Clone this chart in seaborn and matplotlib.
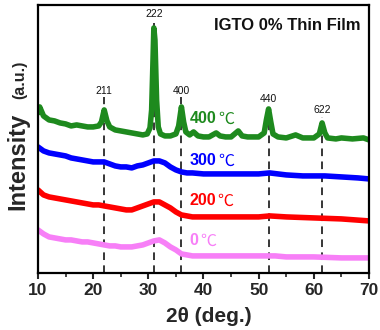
import numpy as np
import pandas as pd
import matplotlib
matplotlib.use("Agg")
import matplotlib.pyplot as plt
import seaborn as sns

# ---------------- data ----------------
x_400 = [10, 10.3, 11, 12, 13, 14, 15, 16, 17, 18, 19, 20, 21, 21.5, 22, 22.5, 23, 24, 25, 26, 27, 28, 29,
         29.8, 30.3, 30.6, 30.85, 31.0, 31.2, 31.5, 31.8, 32.2, 33, 34, 35, 35.5, 36, 36.4, 36.8, 37.5,
         38.2, 39, 40, 41, 42.3, 43, 44, 45, 46.3, 47, 48, 49, 50, 51, 51.4, 51.8, 52.2, 52.6, 53.5, 55,
         56.7, 58, 60, 61, 61.5, 62, 62.5, 64, 65, 67, 69, 70]
y_400 = [160, 166, 157, 153, 152, 150, 149, 147, 148, 147, 146, 146, 147, 151, 163, 152, 146, 143, 142, 141,
         140, 139, 138, 139, 145, 163, 213, 245, 233, 173, 146, 139, 137, 137, 139, 147, 166, 151, 141, 138,
         141, 137, 136, 136, 140, 137, 136, 136, 142, 137, 136, 136, 136, 140, 153, 164, 151, 139, 136, 135,
         138, 135, 135, 139, 150, 140, 135, 134, 135, 134, 135, 133]

x_300 = [10, 11, 12, 13, 14, 15, 16, 17, 18, 19, 20, 21, 22, 23, 24, 25, 26, 27, 28, 29, 30, 31, 32, 33, 34,
         35, 36, 37, 38, 40, 42, 45, 48, 50, 52, 55, 58, 60, 62, 65, 68, 70]
y_300 = [126, 122, 120, 119, 118, 117, 115, 114, 113, 112, 111, 111, 111, 109, 107, 106, 106, 105, 107, 108,
         110, 112, 112, 110, 106, 103, 101, 100, 100, 99, 99, 99, 99, 99, 100, 98, 97, 97, 97, 96, 95, 94]

x_200 = [10, 11, 12, 13, 14, 15, 16, 17, 18, 19, 20, 21, 22, 23, 24, 25, 26, 27, 28, 29, 30, 31, 32, 33, 34,
         35, 36, 37, 38, 40, 45, 50, 52, 55, 60, 65, 70]
y_200 = [83, 78, 76, 75, 74, 73, 72, 71, 70, 69, 68, 68, 67, 66, 65, 64, 63, 63, 65, 67, 69, 71, 71, 68, 65,
         61, 58, 57, 56, 56, 56, 56, 57, 56, 55, 54, 52]

x_0 = [10, 11, 12, 13, 14, 15, 16, 17, 18, 19, 20, 21, 22, 23, 24, 25, 26, 27, 28, 29, 30, 31, 32, 33, 34,
       35, 36, 37, 38, 40, 45, 50, 53, 55, 60, 65, 70]
y_0 = [43, 39, 36, 35, 34, 33, 33, 32, 31, 31, 30, 29, 28, 27, 27, 26, 26, 26, 27, 28, 30, 32, 33, 30, 26,
       23, 19, 18, 17, 17, 17, 17, 17, 16, 16, 15, 15]

series_temps = ["400", "300", "200", "0"]
series_colors = ["#1e8a1e", "#0000ff", "#ff0000", "#f77ff7"]

peak_labels = ["211", "222", "400", "440", "622"]
peak_pos = [22.0, 31.0, 36.0, 51.8, 61.5]

# ---------------- layout / style ----------------
peak_text_y = [182, 259, 182, 174, 163]
peak_line_top = [176, 250, 176, 167, 156]
series_text_y = [154, 112, 72, 32]

sns.set_style("ticks")
plt.rcParams["font.family"] = ["Liberation Sans", "DejaVu Sans"]

fig = plt.figure(figsize=(3.8, 3.3), dpi=100)
ax = fig.add_axes([0.1, 0.173, 0.871, 0.812])

xs = [x_400, x_300, x_200, x_0]
ys = [y_400, y_300, y_200, y_0]
for col, xv, yv in zip(series_colors, xs, ys):
    df = pd.DataFrame({"x": xv, "y": yv})
    sns.lineplot(data=df, x="x", y="y", ax=ax, color=col, lw=4.0, sort=False,
                 estimator=None, solid_joinstyle="round")

for lab, p, ty, lt in zip(peak_labels, peak_pos, peak_text_y, peak_line_top):
    ax.plot([p, p], [0, lt], color="black", lw=1.1, ls=(0, (5, 3.5)), zorder=1)
    ax.text(p, ty, lab, ha="center", va="center", fontsize=7.5, color="#111111")

for t, col, ty in zip(series_temps, series_colors, series_text_y):
    tx = ax.text(37.5, ty, t, ha="left", va="center", fontsize=11.5, fontweight="bold", color=col)
    ax.annotate("℃", xycoords=tx, xy=(1, 0.5), xytext=(1, 0), textcoords="offset points",
                ha="left", va="center", fontsize=11.5, fontweight="normal", color=col,
                family=["Noto Sans CJK SC", "DejaVu Sans"])

ax.text(0.973, 0.925, "IGTO 0% Thin Film", transform=ax.transAxes, ha="right", va="center",
        fontsize=12, fontweight="bold", color="#111111")

ax.set_xlim(10, 70)
ax.set_ylim(0, 268)
ax.set_xticks([10, 20, 30, 40, 50, 60, 70])
ax.set_xticks([15, 25, 35, 45, 55, 65], minor=True)
ax.set_yticks([])
ax.tick_params(axis="x", which="major", direction="out", length=4, width=1.5, labelsize=12.5, pad=3)
ax.tick_params(axis="x", which="minor", direction="out", length=3, width=1.2)
for lbl in ax.get_xticklabels():
    lbl.set_fontweight("bold")
for s in ax.spines.values():
    s.set_linewidth(1.6)
    s.set_color("black")
    s.set_visible(True)

ax.set_xlabel("")
ax.set_ylabel("")
fig.text(0.55, 0.04, "2θ (deg.)", ha="center", va="center", fontsize=15, fontweight="bold")
fig.text(0.047, 0.51, "Intensity", rotation=90, ha="center", va="center", fontsize=17, fontweight="bold")
fig.text(0.051, 0.758, "(a.u.)", rotation=90, ha="center", va="center", fontsize=11.5, fontweight="bold")

fig.savefig("out.png", dpi=100)
